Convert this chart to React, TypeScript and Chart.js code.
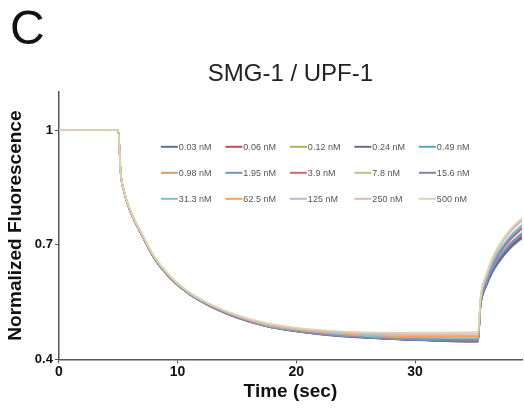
import React, { useEffect, useRef } from "react";
import { Chart, registerables } from "chart.js";

Chart.register(...registerables);

const timeSec = [0, 5, 5.2, 5.5, 6, 7, 8, 9.4, 11, 13, 15, 17.5, 20, 23, 26, 30, 35.3, 35.5, 36, 36.5, 37, 38, 39];

const seriesLabels = [
  "0.03 nM", "0.06 nM", "0.12 nM", "0.24 nM", "0.49 nM",
  "0.98 nM", "1.95 nM", "3.9 nM", "7.8 nM", "15.6 nM",
  "31.3 nM", "62.5 nM", "125 nM", "250 nM", "500 nM",
];

const seriesColors = [
  "#4f74a8", "#c0504d", "#9bbb59", "#7a5f96", "#4bacc6",
  "#e0995e", "#6f95cc", "#c96b6b", "#b0cc7a", "#8f7db0",
  "#79c0d6", "#f5a454", "#b9b9dd", "#e8b4ae", "#d8d9ae",
];

const s0_03 = [1, 1, 0.89, 0.837, 0.788, 0.724, 0.666, 0.612, 0.570, 0.535, 0.509, 0.486, 0.473, 0.462, 0.456, 0.450, 0.446, 0.535, 0.592, 0.627, 0.652, 0.690, 0.717];
const s0_06 = [1, 1, 0.89, 0.837, 0.788, 0.724, 0.666, 0.612, 0.570, 0.535, 0.510, 0.487, 0.474, 0.463, 0.457, 0.451, 0.447, 0.538, 0.596, 0.632, 0.658, 0.697, 0.724];
const s0_12 = [1, 1, 0.89, 0.838, 0.789, 0.725, 0.667, 0.613, 0.571, 0.536, 0.510, 0.487, 0.474, 0.464, 0.458, 0.452, 0.448, 0.540, 0.598, 0.635, 0.661, 0.700, 0.728];
const s0_24 = [1, 1, 0.89, 0.837, 0.788, 0.724, 0.666, 0.612, 0.570, 0.535, 0.509, 0.486, 0.473, 0.463, 0.457, 0.451, 0.447, 0.537, 0.594, 0.630, 0.656, 0.694, 0.720];
const s0_49 = [1, 1, 0.89, 0.838, 0.789, 0.725, 0.667, 0.613, 0.571, 0.536, 0.510, 0.487, 0.474, 0.464, 0.458, 0.452, 0.449, 0.543, 0.600, 0.637, 0.664, 0.703, 0.731];
const s0_98 = [1, 1, 0.89, 0.838, 0.789, 0.726, 0.668, 0.614, 0.572, 0.537, 0.511, 0.488, 0.475, 0.465, 0.459, 0.453, 0.450, 0.545, 0.605, 0.643, 0.671, 0.712, 0.741];
const s1_95 = [1, 1, 0.89, 0.838, 0.789, 0.725, 0.667, 0.613, 0.571, 0.536, 0.510, 0.487, 0.474, 0.464, 0.458, 0.452, 0.449, 0.541, 0.599, 0.636, 0.663, 0.702, 0.729];
const s3_9 = [1, 1, 0.89, 0.838, 0.789, 0.726, 0.668, 0.614, 0.572, 0.537, 0.511, 0.488, 0.475, 0.465, 0.459, 0.454, 0.451, 0.546, 0.606, 0.645, 0.673, 0.714, 0.743];
const s7_8 = [1, 1, 0.89, 0.839, 0.790, 0.726, 0.668, 0.614, 0.572, 0.538, 0.512, 0.489, 0.476, 0.466, 0.460, 0.455, 0.453, 0.548, 0.609, 0.648, 0.677, 0.719, 0.748];
const s15_6 = [1, 1, 0.89, 0.838, 0.789, 0.726, 0.668, 0.614, 0.572, 0.537, 0.511, 0.488, 0.475, 0.465, 0.460, 0.455, 0.452, 0.546, 0.607, 0.646, 0.675, 0.716, 0.745];
const s31_3 = [1, 1, 0.89, 0.839, 0.790, 0.727, 0.669, 0.615, 0.573, 0.538, 0.512, 0.489, 0.477, 0.467, 0.461, 0.457, 0.455, 0.550, 0.611, 0.651, 0.681, 0.723, 0.752];
const s62_5 = [1, 1, 0.89, 0.839, 0.790, 0.727, 0.669, 0.615, 0.574, 0.539, 0.513, 0.491, 0.478, 0.469, 0.464, 0.460, 0.459, 0.555, 0.618, 0.660, 0.691, 0.735, 0.766];
const s125 = [1, 1, 0.89, 0.839, 0.791, 0.727, 0.670, 0.616, 0.574, 0.539, 0.514, 0.492, 0.480, 0.471, 0.466, 0.463, 0.463, 0.556, 0.619, 0.660, 0.690, 0.733, 0.762];
const s250 = [1, 1, 0.89, 0.840, 0.791, 0.728, 0.670, 0.616, 0.575, 0.540, 0.515, 0.493, 0.481, 0.473, 0.468, 0.466, 0.467, 0.558, 0.621, 0.662, 0.692, 0.735, 0.765];
const s500 = [1, 1, 0.89, 0.840, 0.792, 0.728, 0.671, 0.617, 0.575, 0.541, 0.516, 0.495, 0.483, 0.475, 0.471, 0.470, 0.472, 0.560, 0.624, 0.666, 0.696, 0.740, 0.770];

const seriesValues = [s0_03, s0_06, s0_12, s0_24, s0_49, s0_98, s1_95, s3_9, s7_8, s15_6, s31_3, s62_5, s125, s250, s500];

const yTicks = [0.4, 0.7, 1];
const xTicks = [0, 10, 20, 30];

const FONT = "Arial, 'Liberation Sans', sans-serif";

const insideLegend = {
  id: "insideLegend",
  afterDatasetsDraw(chart: any) {
    const { ctx, chartArea } = chart;
    const cols = 5;
    const colW = 64.5;
    const rowH = 26;
    const x0 = chartArea.left + 102;
    const y0 = chartArea.top + 55;
    ctx.save();
    ctx.font = `9px ${FONT}`;
    ctx.textBaseline = "middle";
    ctx.textAlign = "left";
    chart.data.datasets.forEach((ds: any, i: number) => {
      const c = i % cols;
      const r = Math.floor(i / cols);
      const x = x0 + c * colW;
      const y = y0 + r * rowH;
      ctx.strokeStyle = ds.borderColor;
      ctx.lineWidth = 2;
      ctx.beginPath();
      ctx.moveTo(x, y);
      ctx.lineTo(x + 17, y);
      ctx.stroke();
      ctx.fillStyle = "#555";
      ctx.fillText(ds.label, x + 18, y + 0.5);
    });
    ctx.restore();
  },
};

const panelLetter = {
  id: "panelLetter",
  afterDraw(chart: any) {
    const { ctx } = chart;
    ctx.save();
    ctx.font = `48px ${FONT}`;
    ctx.fillStyle = "#111";
    ctx.textBaseline = "alphabetic";
    ctx.textAlign = "left";
    ctx.fillText("C", 10, 44);
    ctx.restore();
  },
};

export default function App() {
  const canvasRef = useRef<HTMLCanvasElement | null>(null);

  useEffect(() => {
    document.body.style.margin = "0";
    const canvas = canvasRef.current;
    if (!canvas) return;
    const chart = new Chart(canvas, {
      type: "line",
      data: {
        datasets: seriesLabels.map((label, i) => ({
          label,
          data: timeSec.map((t, k) => ({ x: t, y: seriesValues[i][k] })),
          borderColor: seriesColors[i],
          backgroundColor: seriesColors[i],
          borderWidth: 1.6,
          pointRadius: 0,
          cubicInterpolationMode: "monotone" as const,
          fill: false,
          order: seriesLabels.length - i,
        })),
      },
      options: {
        responsive: false,
        animation: false,
        devicePixelRatio: 1,
        layout: { padding: { left: 4, right: 2, top: 0, bottom: 8 } },
        plugins: {
          legend: { display: false },
          tooltip: { enabled: false },
          title: {
            display: true,
            text: "SMG-1 / UPF-1",
            fullSize: false,
            color: "#222",
            font: { family: FONT, size: 24, weight: "normal" },
            padding: { top: 60, bottom: 3 },
          },
        },
        scales: {
          x: {
            type: "linear",
            min: 0,
            max: 39,
            afterBuildTicks: (axis: any) => {
              axis.ticks = xTicks.map((v) => ({ value: v }));
            },
            ticks: {
              color: "#111",
              font: { family: FONT, size: 14, weight: "bold" },
              padding: 0,
              maxRotation: 0,
            },
            grid: { display: true, drawOnChartArea: false, drawTicks: true, tickLength: 4, color: "#555" },
            border: { display: true, color: "#555", width: 1.5 },
            title: {
              display: true,
              text: "Time (sec)",
              color: "#111",
              font: { family: FONT, size: 19, weight: "bold" },
              padding: { top: 0, bottom: 0 },
            },
          },
          y: {
            type: "linear",
            min: 0.4,
            max: 1.1,
            afterBuildTicks: (axis: any) => {
              axis.ticks = yTicks.map((v) => ({ value: v }));
            },
            ticks: {
              color: "#111",
              font: { family: FONT, size: 13, weight: "bold" },
              padding: 2,
              callback: (v: any) => String(v),
            },
            grid: { display: true, drawOnChartArea: false, drawTicks: true, tickLength: 4, color: "#555" },
            border: { display: true, color: "#555", width: 1.5 },
            title: {
              display: true,
              text: "Normalized Fluorescence",
              color: "#111",
              font: { family: FONT, size: 19, weight: "bold" },
              padding: { top: 0, bottom: 6 },
            },
          },
        },
      },
      plugins: [insideLegend, panelLetter],
    });
    return () => chart.destroy();
  }, []);

  return (
    <div style={{ width: 524, height: 411 }}>
      <canvas ref={canvasRef} width={524} height={411} />
    </div>
  );
}
